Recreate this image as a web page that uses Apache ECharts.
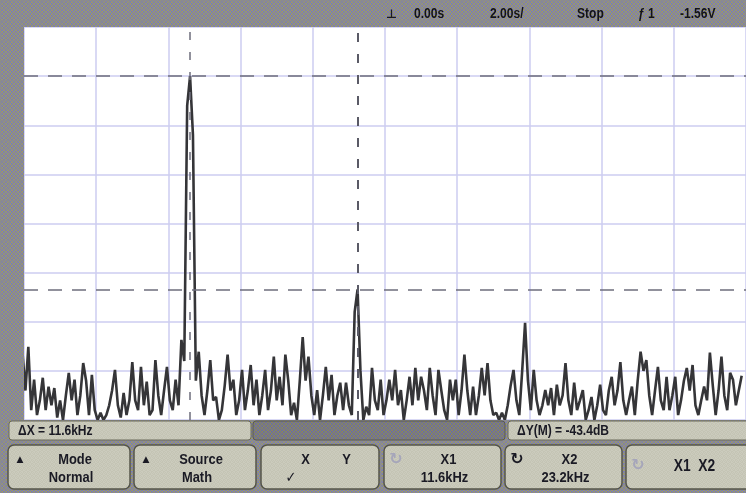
<!DOCTYPE html>
<html><head><meta charset="utf-8">
<script src="https://cdn.jsdelivr.net/npm/echarts@6/dist/echarts.min.js"></script>
<style>html,body{margin:0;padding:0;background:#8c8c8c;overflow:hidden}#c{width:746px;height:493px}</style>
</head><body><div id="c"></div>
<script>
// FFT trace: one value (dB) per 0.2 kHz bin
const binKHz = 0.2;
const spectrumDb = [
 -66.5,-74,-65.1,-78,-71.8,-79,-76,-71.4,-78,-73.2,
 -77,-73.5,-79.5,-76,-80,-75,-70.4,-76,-71.8,-79,
 -75,-68.4,-72,-79,-70.8,-78,-80,-78.5,-80,-79,
 -77,-74,-69.8,-77,-79.5,-74.5,-79,-76,-68.2,-76,
 -78,-69.2,-77,-72.2,-79,-78,-67.8,-75,-79,-74,
 -69.2,-76,-78,-71.8,-77,-63.7,-68,-16,-10.0,-22,
 -72,-66.1,-75,-79,-74,-67.8,-76,-75.3,-80,-78,
 -73,-66.7,-74,-71.8,-79,-76,-69.8,-78,-74,-68.8,
 -77,-71.8,-79,-75,-69.8,-78,-74,-67.1,-76,-71.2,
 -77,-66.7,-72,-79,-76.5,-80,-72,-63.1,-72,-67.1,
 -75,-79,-73.9,-80,-75,-69.2,-76,-70.8,-79,-75,
 -72.4,-78,-72.4,-77,-79,-58,-53.4,-70,-80,-77.3,
 -79,-69.4,-76,-78,-71.8,-79,-76,-71.8,-76,-69.8,
 -77,-73.9,-80,-76,-71.2,-77,-69.4,-76,-71.2,-74,
 -78,-69.4,-75,-79,-69.8,-74,-78,-80,-71.8,-76,
 -71.8,-79,-74,-66.7,-74,-79,-73.2,-79,-75,-69.4,
 -75,-68.4,-76,-79,-78.5,-80,-78.5,-80,-77,-73,
 -69.8,-76,-79,-70,-60.2,-72,-78,-69.8,-76,-79,
 -77,-73.9,-77,-73.5,-79,-72.8,-77,-75,-68.4,-76,
 -79,-72.4,-78,-76,-73.9,-80,-78,-75.3,-80,-77,
 -72.8,-78,-79,-74,-71.2,-77,-74,-68.2,-76,-79,
 -76,-73.2,-79,-72,-66.1,-70,-67.8,-75,-79,-74,
 -69.2,-76,-78,-71.2,-78,-75,-71.2,-79,-76,-72,
 -69.4,-74,-68.8,-77,-79,-76,-73.2,-76,-66.3,-73,
 -79,-74,-67.1,-75,-78,-70.4,-71.8,-77,-74,-71
];
const cursorXkHz = [11.6, 23.2];
const cursorYdB = [-10.0, -53.4];
const topTexts = [['0.00s', 414], ['2.00s/', 490], ['Stop', 577], ['ƒ', 638], ['1', 648], ['-1.56V', 680]];
const statusLeft = 'ΔX = 11.6kHz';
const statusRight = 'ΔY(M) = -43.4dB';
const buttons = [
  {x: 8, w: 122, icon: '▲', l1: 'Mode', l2: 'Normal'},
  {x: 134, w: 122, icon: '▲', l1: 'Source', l2: 'Math'},
  {x: 261, w: 118, icon: '', l1: 'X         Y', l2: '✓'},
  {x: 384, w: 117, icon: '↻', faint: true, l1: 'X1', l2: '11.6kHz'},
  {x: 505, w: 117, icon: '↻', l1: 'X2', l2: '23.2kHz'},
  {x: 626, w: 125, icon: '↻', faint: true, l1: '', l2: '', mid: 'X1  X2'}
];

const traceData = spectrumDb.map((v, i) => [+(i * binKHz).toFixed(2), v]);

function ditherPattern(cols) {
  const cv = document.createElement('canvas');
  cv.width = 4; cv.height = 4;
  const g = cv.getContext('2d');
  const map = [[0,1,0,1],[1,0,1,0],[0,1,1,0],[1,0,0,1]];
  for (let y = 0; y < 4; y++) for (let x = 0; x < 4; x++) {
    g.fillStyle = cols[map[y][x]];
    g.fillRect(x, y, 1, 1);
  }
  return {image: cv, repeat: 'repeat'};
}
const frameFill = ditherPattern(['#9c9c64', '#7a7aba']);
const darkFill = ditherPattern(['#8a8a56', '#6a6aa6']);
const btnFill = ditherPattern(['#cbcbbd', '#c4c4b4']);

const FONT = '"Liberation Sans","Arial",sans-serif';
const SX = 0.86;
const ink = '#1a1a24';
const graphics = [
  {type: 'rect', shape: {x: 0, y: 0, width: 24, height: 420}, style: {fill: frameFill}, z: 10},
  {type: 'rect', shape: {x: 0, y: 0, width: 746, height: 27}, style: {fill: frameFill}, z: 10},
  {type: 'rect', shape: {x: 0, y: 420, width: 746, height: 73}, style: {fill: frameFill}, z: 10},
  {type: 'text', x: 386, y: 15, style: {text: '⊥', font: 'bold 12px "DejaVu Sans",sans-serif', fill: ink, verticalAlign: 'middle'}, z: 11},
  // status row
  {type: 'rect', shape: {x: 9, y: 421, width: 242, height: 19, r: 3}, style: {fill: btnFill, stroke: '#6a6a5a', lineWidth: 1}, z: 11},
  {type: 'rect', shape: {x: 253, y: 421, width: 252, height: 19, r: 3}, style: {fill: darkFill, stroke: '#5a5a50', lineWidth: 1}, z: 11},
  {type: 'rect', shape: {x: 508, y: 421, width: 245, height: 19, r: 3}, style: {fill: btnFill, stroke: '#6a6a5a', lineWidth: 1}, z: 11},
  {type: 'text', x: 18, y: 431, scaleX: SX, style: {text: statusLeft, font: 'bold 14px ' + FONT, fill: ink, verticalAlign: 'middle'}, z: 12},
  {type: 'text', x: 517, y: 431, scaleX: SX, style: {text: statusRight, font: 'bold 14px ' + FONT, fill: ink, verticalAlign: 'middle'}, z: 12}
];
topTexts.forEach(t => graphics.push({type: 'text', x: t[1], y: 14, scaleX: SX, style: {text: t[0], font: 'bold 14px ' + FONT, fill: '#141418', verticalAlign: 'middle'}, z: 11}));
buttons.forEach(b => {
  graphics.push({type: 'rect', shape: {x: b.x, y: 445, width: b.w, height: 44, r: 6}, style: {fill: btnFill, stroke: '#55554a', lineWidth: 1.5}, z: 11});
  const cx = b.x + b.w / 2;
  if (b.icon) graphics.push({type: 'text', x: b.x + 12, y: b.mid ? 466 : 460, style: {text: b.icon, font: 'bold ' + (b.icon === '▲' ? 9 : 16) + 'px "DejaVu Sans",sans-serif', fill: b.faint ? '#a6a6ba' : ink, align: 'center', verticalAlign: 'middle'}, z: 12});
  if (b.l1) graphics.push({type: 'text', x: cx + 6, y: 460, scaleX: SX, style: {text: b.l1, font: 'bold 15px ' + FONT, fill: ink, align: 'center', verticalAlign: 'middle'}, z: 12});
  if (b.l2) graphics.push({type: 'text', x: b.l2 === '✓' ? b.x + 30 : cx + 2, y: 478, scaleX: SX, style: {text: b.l2, font: 'bold 15px ' + (b.l2 === '✓' ? '"DejaVu Sans",sans-serif' : FONT), fill: ink, align: 'center', verticalAlign: 'middle'}, z: 12});
  if (b.mid) graphics.push({type: 'text', x: cx + 6, y: 467, scaleX: SX, style: {text: b.mid, font: 'bold 16px ' + FONT, fill: ink, align: 'center', verticalAlign: 'middle'}, z: 12});
});

const chart = echarts.init(document.getElementById('c'), null, {renderer: 'canvas'});
chart.setOption({
  animation: false,
  backgroundColor: '#8c8c8c',
  grid: {left: 24, top: 27, right: -10, bottom: 73, show: true, backgroundColor: '#ffffff', borderWidth: 0},
  xAxis: {type: 'value', min: 0.1, max: 50.1, interval: 5,
    axisLine: {show: false}, axisTick: {show: false}, axisLabel: {show: false},
    splitLine: {show: true, lineStyle: {color: '#cdcdf0', width: 1.5}}},
  yAxis: {type: 'value', min: -80, max: 0, interval: 10,
    axisLine: {show: false}, axisTick: {show: false}, axisLabel: {show: false},
    splitLine: {show: true, lineStyle: {color: '#cdcdf0', width: 1.5}}},
  series: [{
    type: 'line', data: traceData, showSymbol: false, clip: true,
    lineStyle: {color: '#353538', width: 2.6}, z: 3,
    markLine: {silent: true, symbol: 'none', label: {show: false},
      data: [
        {yAxis: cursorYdB[0], lineStyle: {color: '#6e6e7c', width: 1.5, type: [14, 10]}},
        {yAxis: cursorYdB[1], lineStyle: {color: '#6e6e7c', width: 1.5, type: [14, 10]}},
        {xAxis: cursorXkHz[0], lineStyle: {color: '#6e6e7c', width: 1.5, type: [8, 12]}},
        {xAxis: cursorXkHz[1], lineStyle: {color: '#5a5a66', width: 2, type: [9, 12]}}
      ]}
  }],
  graphic: graphics
});
</script>
</body></html>
